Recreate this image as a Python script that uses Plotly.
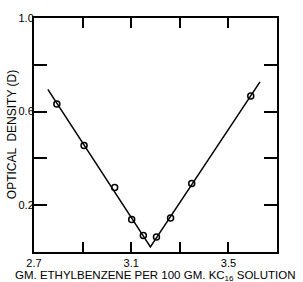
import plotly.graph_objects as go

# measured points
pts_x = [2.794, 2.906, 3.032, 3.102, 3.150, 3.204, 3.262, 3.349, 3.592]
pts_y = [0.633, 0.455, 0.276, 0.139, 0.071, 0.064, 0.145, 0.293, 0.667]

# fitted V-shaped line
line_x = [2.757, 3.179, 3.630]
line_y = [0.695, 0.022, 0.727]

x_tickvals = [2.7, 2.9, 3.1, 3.3, 3.5]
x_ticktext = ["2.7", " ", "3.1", " ", "3.5"]
y_tickvals = [0.2, 0.4, 0.6, 0.8, 1.0]
y_ticktext = ["0.2", " ", "0.6", " ", "1.0"]

font = dict(family="Liberation Sans, Arial, sans-serif", color="black")

fig = go.Figure()
fig.add_trace(go.Scatter(x=line_x, y=line_y, mode="lines",
                         line=dict(color="black", width=1.5), hoverinfo="skip"))
fig.add_trace(go.Scatter(x=pts_x, y=pts_y, mode="markers",
                         marker=dict(symbol="circle-open", size=6, color="black",
                                     line=dict(width=1.5))))

fig.update_xaxes(range=[2.7, 3.7], tickmode="array", tickvals=x_tickvals,
                 ticktext=x_ticktext, ticks="inside", ticklen=10, tickwidth=2,
                 tickcolor="black", showgrid=False, zeroline=False, showline=True,
                 linecolor="black", linewidth=2, mirror="ticks",
                 tickfont=dict(size=11, **font))
fig.update_yaxes(range=[0, 1.0], tickmode="array", tickvals=y_tickvals,
                 ticktext=y_ticktext, ticks="inside", ticklen=13, tickwidth=2,
                 tickcolor="black", showgrid=False, zeroline=False, showline=True,
                 linecolor="black", linewidth=2, mirror="ticks",
                 ticklabelstandoff=-4,
                 tickfont=dict(size=11, **font))

fig.add_annotation(text="GM. ETHYLBENZENE PER 100 GM. KC<sub>16</sub> SOLUTION",
                   xref="paper", yref="paper", x=0.5, y=-0.062, yanchor="top",
                   showarrow=False, font=dict(size=11.5, **font))
fig.add_annotation(text="OPTICAL  DENSITY (D)", textangle=-90,
                   xref="paper", yref="paper", x=-0.09, y=0.5, xanchor="center",
                   showarrow=False, font=dict(size=12, **font))

fig.update_layout(width=303, height=282, showlegend=False,
                  margin=dict(l=34, r=26, t=13, b=30),
                  plot_bgcolor="white", paper_bgcolor="white")

fig.write_html("out.html", config={"displayModeBar": False},
               post_script="document.body.style.margin='0';document.body.style.overflow='hidden';")
